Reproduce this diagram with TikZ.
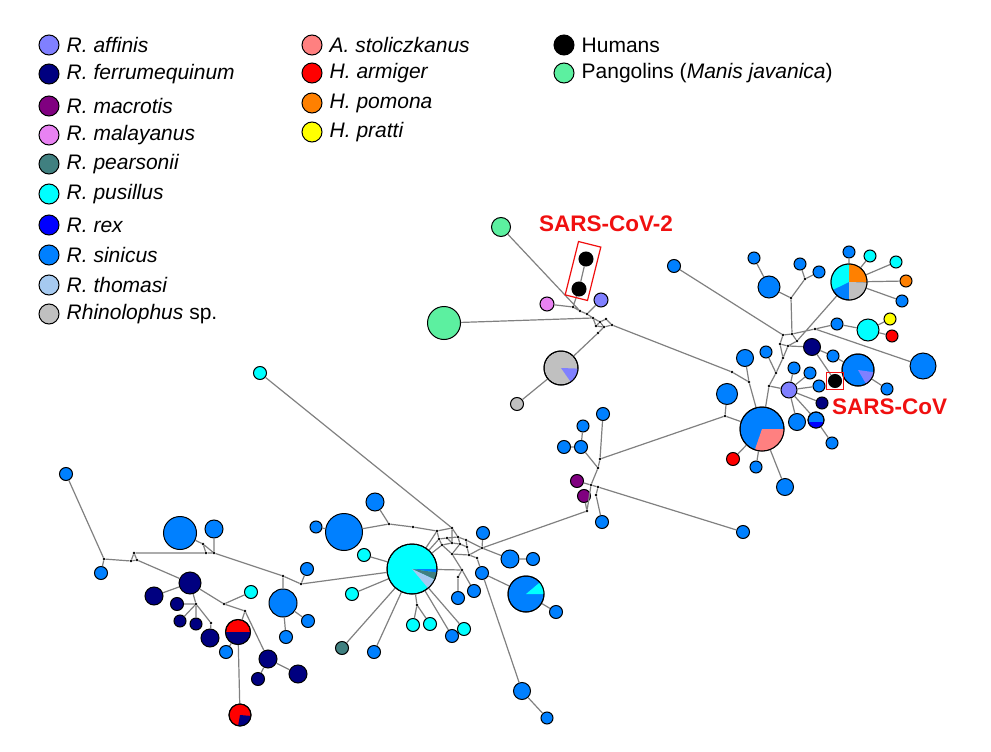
\documentclass[tikz,border=0pt]{standalone}
\usepackage{fontspec}
\setmainfont{Liberation Sans}
\usetikzlibrary{positioning}
\definecolor{affin}{HTML}{8080FF}
\definecolor{ferru}{HTML}{000080}
\definecolor{macro}{HTML}{800080}
\definecolor{malay}{HTML}{E882F2}
\definecolor{pears}{HTML}{408080}
\definecolor{pusil}{HTML}{00FFFF}
\definecolor{rexc}{HTML}{0000FF}
\definecolor{sinic}{HTML}{0080FF}
\definecolor{thoma}{HTML}{A6CAF0}
\definecolor{rhino}{HTML}{C0C0C0}
\definecolor{stoli}{HTML}{FF8080}
\definecolor{armig}{HTML}{FF0000}
\definecolor{pomon}{HTML}{FF8000}
\definecolor{pratt}{HTML}{FFFF00}
\definecolor{pango}{HTML}{5CF0A0}
\definecolor{boxred}{HTML}{F01010}
\tikzset{
    hap/.style={circle, draw=black, line width=1pt, inner sep=0pt, minimum size=#1}, % one haplotype, size = number of sequences
    jn/.style={circle, fill=black, inner sep=0pt, minimum size=2.6pt}, % median vector
    lnk/.style={draw=gray, line width=1.2pt}, % links of the network
    legtext/.style={font=\fontsize{21}{25}\selectfont, inner sep=1pt}, % legend entries
    sarslbl/.style={font=\fontsize{22.5}{26}\selectfont\bfseries, text=boxred, inner sep=0pt}, % virus names
}
% wedge of a pie haplotype: node, radius, start, end, colour
\newcommand{\slice}[5]{\fill[#5] (#1.center) -- ++(#3:#2pt) arc[start angle=#3, end angle=#4, radius=#2pt] -- cycle;}
\newcommand{\rim}[2]{\draw[line width=1pt] (#1.center) circle[radius=#2pt];}

\begin{document}
\begin{tikzpicture}[x=1pt, y=-1pt]
\useasboundingbox (0,0) rectangle (991,752);

% legend
\node[hap=20, fill=affin] (k1) at (49,45) {};
\node[legtext, right=6pt of k1] {\textit{R. affinis}};
\node[hap=20, fill=ferru] (k2) at (49,74) {};
\node[legtext, right=6pt of k2] {\textit{R. ferrumequinum}};
\node[hap=20, fill=macro] (k3) at (49,106) {};
\node[legtext, right=6pt of k3] {\textit{R. macrotis}};
\node[hap=20, fill=malay] (k4) at (49,135) {};
\node[legtext, right=6pt of k4] {\textit{R. malayanus}};
\node[hap=20, fill=pears] (k5) at (49,164) {};
\node[legtext, right=6pt of k5] {\textit{R. pearsonii}};
\node[hap=20, fill=pusil] (k6) at (49,194) {};
\node[legtext, right=6pt of k6] {\textit{R. pusillus}};
\node[hap=20, fill=rexc] (k7) at (49,225) {};
\node[legtext, right=6pt of k7] {\textit{R. rex}};
\node[hap=20, fill=sinic] (k8) at (49,255) {};
\node[legtext, right=6pt of k8] {\textit{R. sinicus}};
\node[hap=20, fill=thoma] (k9) at (49,285) {};
\node[legtext, right=6pt of k9] {\textit{R. thomasi}};
\node[hap=20, fill=rhino] (k10) at (49,314) {};
\node[legtext, right=6pt of k10] {\textit{Rhinolophus} sp.};
\node[hap=20, fill=stoli] (k11) at (312,45) {};
\node[legtext, right=6pt of k11] {\textit{A. stoliczkanus}};
\node[hap=20, fill=armig] (k12) at (312,73) {};
\node[legtext, right=6pt of k12] {\textit{H. armiger}};
\node[hap=20, fill=pomon] (k13) at (312,103) {};
\node[legtext, right=6pt of k13] {\textit{H. pomona}};
\node[hap=20, fill=pratt] (k14) at (312,132) {};
\node[legtext, right=6pt of k14] {\textit{H. pratti}};
\node[hap=20, fill=black] (k15) at (564,45) {};
\node[legtext, right=6pt of k15] {Humans};
\node[hap=20, fill=pango] (k16) at (564,73) {};
\node[legtext, right=6pt of k16] {Pangolins (\textit{Manis javanica})};

% pangolin / SARS-CoV-2 group
\node[hap=19, fill=pango] (pg1) at (501,227) {};
\node[hap=33, fill=pango] (pg2) at (444,323) {};
\node[hap=14, fill=black] (hu1) at (586,259) {};
\node[hap=14, fill=black] (hu2) at (579,289) {};
\node[hap=14, fill=malay] (ma1) at (547,304) {};
\node[hap=14, fill=affin] (af1) at (601,300) {};
\node[hap=34, fill=rhino] (rp1) at (561,368) {};
\node[hap=13, fill=rhino] (rp2) at (517,404) {};
\node[jn] (ta) at (573,307) {};
\node[jn] (tb) at (580,311) {};
\node[jn] (tc) at (587,314) {};
\node[jn] (td) at (593,318) {};
\node[jn] (te) at (600,322) {};
\node[jn] (tf) at (606,319) {};
\node[jn] (tg) at (604,327) {};
\node[jn] (th) at (596,326) {};
\node[jn] (ti) at (612,325) {};
\node[jn] (tk) at (598,333) {};
\node[sarslbl] (lab2) at (606,224) {SARS-CoV-2};

% SARS-CoV group
\node[hap=13, fill=sinic] (r01) at (674,266) {};
\node[hap=12, fill=sinic] (r02) at (754,258) {};
\node[hap=22, fill=sinic] (r03) at (769,287) {};
\node[hap=12, fill=sinic] (r04) at (800,264) {};
\node[hap=12, fill=sinic] (r05) at (819,272) {};
\node[hap=36, fill=sinic] (tp) at (849,282) {};
\node[hap=12, fill=sinic] (r06) at (849,252) {};
\node[hap=12, fill=pusil] (r07) at (870,256) {};
\node[hap=12, fill=pusil] (r08) at (896,262) {};
\node[hap=12, fill=pomon] (r09) at (906,281) {};
\node[hap=12, fill=sinic] (r10) at (902,301) {};
\node[hap=12, fill=pratt] (r11) at (890,319) {};
\node[hap=12, fill=armig] (r12) at (892,336) {};
\node[hap=22, fill=pusil] (r13) at (868,330) {};
\node[hap=12, fill=sinic] (r14) at (837,324) {};
\node[hap=26, fill=sinic] (r15) at (923,366) {};
\node[hap=17, fill=ferru] (r16) at (812,347) {};
\node[hap=12, fill=sinic] (r17) at (833,356) {};
\node[hap=32, fill=sinic] (r18) at (858,370) {};
\node[hap=12, fill=sinic] (r19) at (887,389) {};
\node[hap=13, fill=black] (hsc) at (835,381) {};
\node[hap=16, fill=affin] (r20) at (789,390) {};
\node[hap=12, fill=sinic] (r21) at (794,368) {};
\node[hap=12, fill=sinic] (r22) at (810,373) {};
\node[hap=12, fill=sinic] (r23) at (819,386) {};
\node[hap=12, fill=ferru] (r24) at (822,403) {};
\node[hap=16, fill=sinic] (r25) at (816,420) {};
\node[hap=17, fill=sinic] (r26) at (797,422) {};
\node[hap=12, fill=sinic] (r27) at (832,443) {};
\node[hap=12, fill=sinic] (r28) at (766,352) {};
\node[hap=17, fill=sinic] (r29) at (745,358) {};
\node[hap=21, fill=sinic] (r30) at (727,394) {};
\node[hap=44, fill=sinic] (big) at (762,429) {};
\node[hap=13, fill=armig] (r31) at (733,459) {};
\node[hap=12, fill=sinic] (r32) at (756,467) {};
\node[hap=17, fill=sinic] (r33) at (785,487) {};
\node[jn] (ra) at (732,372) {};
\node[jn] (rb) at (749,382) {};
\node[jn] (rc) at (725,416) {};
\node[jn] (rd) at (769,386) {};
\node[jn] (re) at (776,373) {};
\node[jn] (rf) at (783,358) {};
\node[jn] (mA) at (783,335) {};
\node[jn] (mB) at (792,334) {};
\node[jn] (mC) at (780,344) {};
\node[jn] (mD) at (788,346) {};
\node[jn] (mE) at (797,341) {};
\node[jn] (mH) at (815,329) {};
\node[jn] (jA) at (791,298) {};
\node[jn] (jB) at (805,279) {};
\node[sarslbl, anchor=west] (lab1) at (832,407) {SARS-CoV};

% middle group
\node[hap=13, fill=sinic] (m01) at (603,414) {};
\node[hap=12, fill=sinic] (m02) at (583,426) {};
\node[hap=13, fill=sinic] (m03) at (581,447) {};
\node[hap=13, fill=sinic] (m04) at (564,447) {};
\node[hap=13, fill=macro] (m05) at (577,481) {};
\node[hap=13, fill=macro] (m06) at (584,496) {};
\node[hap=13, fill=sinic] (m07) at (602,522) {};
\node[hap=13, fill=sinic] (m08) at (743,532) {};
\node[jn] (na) at (600,459) {};
\node[jn] (nb) at (598,468) {};
\node[jn] (nc) at (591,485) {};
\node[jn] (nd) at (598,487) {};
\node[jn] (ne) at (596,495) {};
\node[jn] (nf) at (587,511) {};

% R. pusillus group
\node[hap=50, fill=pusil] (cp) at (412,569) {};
\node[hap=37, fill=sinic] (c01) at (344,532) {};
\node[hap=12, fill=sinic] (c02) at (316,527) {};
\node[hap=18, fill=sinic] (c03) at (375,502) {};
\node[hap=13, fill=pusil] (c04) at (364,555) {};
\node[hap=13, fill=pusil] (c05) at (352,594) {};
\node[hap=13, fill=pears] (c06) at (342,648) {};
\node[hap=13, fill=sinic] (c07) at (374,652) {};
\node[hap=13, fill=pusil] (c08) at (413,625) {};
\node[hap=13, fill=pusil] (c09) at (430,624) {};
\node[hap=13, fill=sinic] (c10) at (452,636) {};
\node[hap=13, fill=pusil] (c11) at (464,629) {};
\node[hap=13, fill=sinic] (c12) at (458,598) {};
\node[hap=13, fill=sinic] (c13) at (474,591) {};
\node[hap=13, fill=sinic] (c14) at (483,533) {};
\node[hap=18, fill=sinic] (c15) at (510,559) {};
\node[hap=13, fill=sinic] (c16) at (533,559) {};
\node[hap=13, fill=sinic] (c17) at (482,573) {};
\node[hap=36, fill=sinic] (c18) at (526,594) {};
\node[hap=13, fill=sinic] (c19) at (556,612) {};
\node[hap=17, fill=sinic] (c20) at (522,691) {};
\node[hap=12, fill=sinic] (c21) at (547,718) {};
\node[hap=13, fill=pusil] (c22) at (260,373) {};
\node[jn] (ka) at (389,524) {};
\node[jn] (kb) at (413,527) {};
\node[jn] (kc) at (437,531) {};
\node[jn] (kd) at (452,528) {};
\node[jn] (ke) at (439,539) {};
\node[jn] (kf) at (447,538) {};
\node[jn] (kg) at (458,537) {};
\node[jn] (kh) at (466,540) {};
\node[jn] (ki) at (452,543) {};
\node[jn] (kj) at (460,544) {};
\node[jn] (kk) at (467,547) {};
\node[jn] (kl) at (442,545) {};
\node[jn] (km) at (452,554) {};
\node[jn] (kn) at (469,555) {};
\node[jn] (ko) at (482,548) {};
\node[jn] (kp) at (477,558) {};
\node[jn] (kq) at (462,570) {};
\node[jn] (kr) at (458,577) {};
\node[jn] (ks) at (417,605) {};

% R. ferrumequinum group
\node[hap=13, fill=sinic] (h01) at (66,474) {};
\node[hap=13, fill=sinic] (h02) at (101,573) {};
\node[hap=33, fill=sinic] (h03) at (180,533) {};
\node[hap=18, fill=sinic] (h04) at (214,529) {};
\node[hap=22, fill=ferru] (h05) at (190,583) {};
\node[hap=18, fill=ferru] (h06) at (154,596) {};
\node[hap=13, fill=ferru] (h07) at (177,604) {};
\node[hap=12, fill=ferru] (h08) at (180,621) {};
\node[hap=12, fill=ferru] (h09) at (196,624) {};
\node[hap=18, fill=ferru] (h10) at (210,638) {};
\node[hap=13, fill=pusil] (h11) at (251,592) {};
\node[hap=25, fill=armig] (h12) at (238,632) {};
\node[hap=13, fill=sinic] (h13) at (226,652) {};
\node[hap=18, fill=ferru] (h14) at (268,659) {};
\node[hap=13, fill=ferru] (h15) at (258,679) {};
\node[hap=18, fill=ferru] (h16) at (298,674) {};
\node[hap=22, fill=armig] (h17) at (240,715) {};
\node[hap=28, fill=sinic] (h18) at (283,603) {};
\node[hap=13, fill=sinic] (h19) at (308,621) {};
\node[hap=13, fill=sinic] (h20) at (286,637) {};
\node[hap=13, fill=sinic] (h21) at (307,569) {};
\node[jn] (ga) at (104,559) {};
\node[jn] (gb) at (131,561) {};
\node[jn] (gc) at (134,553) {};
\node[jn] (gd) at (137,560) {};
\node[jn] (ge) at (206,553) {};
\node[jn] (gf) at (214,553) {};
\node[jn] (gg) at (203,544) {};
\node[jn] (gh) at (283,576) {};
\node[jn] (la) at (301,584) {};
\node[jn] (gi) at (224,604) {};
\node[jn] (gj) at (245,611) {};
\node[jn] (gk) at (196,604) {};
\node[jn] (gl) at (211,623) {};

% links
\draw[lnk] (ma1) -- (ta) -- (tb) -- (tc) -- (td) -- (te)
    (hu1) -- (hu2) -- (ta) (af1) -- (tc) (pg1) -- (tb) (pg2) -- (td)
    (td) -- (th) -- (te) -- (tf) -- (ti) (th) -- (tg) -- (ti) (te) -- (tg)
    (rp1) -- (tk) -- (tg) (rp1) -- (rp2) (ti) -- (ra);
\draw[lnk] (ra) -- (rb) -- (big) (r29) -- (rb) (r30) -- (rc) -- (big) (rc) -- (na)
    (r01) -- (mA) -- (mB) -- (mH) -- (r14) (mH) -- (r15)
    (mA) -- (mC) -- (mD) -- (mE) -- (mB)
    (r02) -- (r03) -- (jA) -- (mB) (jA) -- (jB) -- (r04) (jB) -- (r05)
    (tp) -- (mE) (tp) -- (r06) (tp) -- (r07) (tp) -- (r08) (tp) -- (r09) (tp) -- (r10)
    (mC) -- (rf) (mD) -- (rf) -- (re) -- (rd) -- (big) (r28) -- (re) (r20) -- (rd)
    (mD) -- (r16) -- (r17) -- (r18) -- (r19) (r16) -- (hsc)
    (r14) -- (r13) -- (r11) (r13) -- (r12)
    (r20) -- (r21) (r20) -- (r22) (r20) -- (r23) (r20) -- (r24) (r20) -- (r25) (r20) -- (r26)
    (r25) -- (r27) (big) -- (r31) (big) -- (r32) (big) -- (r33);
\draw[lnk] (m01) -- (na) -- (nb) -- (nc) -- (nf) (nb) -- (m03) -- (m04) (m03) -- (m02)
    (nc) -- (m05) (m06) -- (nf) (nc) -- (nd) -- (ne) -- (m07) (nd) -- (m08) (nf) -- (ko);
\draw[lnk] (c02) -- (c01) -- (ka) -- (kb) -- (kc) -- (kd) -- (c22) (ka) -- (c03)
    (kc) -- (ke) -- (kf) -- (kg) -- (kh) (kd) -- (kg) (kd) -- (ki) (kf) -- (ki)
    (ke) -- (kl) -- (ki) -- (kj) -- (kk) (kg) -- (kj) (kh) -- (kk)
    (kl) -- (km) -- (kn) (kj) -- (km) (kk) -- (kn) -- (ko) (kh) -- (ko)
    (ko) -- (c14) (ko) -- (c15) -- (c16) (kn) -- (kp) -- (c17) -- (c18) -- (c19)
    (c17) -- (c20) -- (c21) (cp) -- (kc) (cp) -- (ke) (cp) -- (kl) (cp) -- (kq)
    (kq) -- (km) (kq) -- (kr) -- (c12) (kq) -- (c13)
    (cp) -- (c04) (cp) -- (c05) (cp) -- (c06) (cp) -- (c07) (cp) -- (ks) -- (c08) (ks) -- (c09)
    (cp) -- (c10) (cp) -- (c11) (cp) -- (la);
\draw[lnk] (h01) -- (ga) -- (h02) (ga) -- (gb) -- (gc) -- (gd) -- (gb)
    (gc) -- (ge) -- (gf) -- (gh) -- (la) (h03) -- (gg) -- (ge) (gg) -- (gf) (h04) -- (gf)
    (gh) -- (h18) -- (h19) (h18) -- (h20) (h21) -- (la)
    (gd) -- (h05) -- (h06) (h05) -- (gi) -- (h11) (gi) -- (gj) -- (h12) (gj) -- (h14) -- (h15) (h14) -- (h16)
    (h05) -- (gk) -- (h07) (gk) -- (h08) (gk) -- (h09) (gk) -- (gl) -- (h10)
    (h12) -- (h13) (h12) -- (h17);

% pie wedges
\slice{rp1}{17}{-55}{-2}{affin} \rim{rp1}{17}
\slice{tp}{18}{-2}{90}{pomon} \slice{tp}{18}{90}{206}{pusil} \slice{tp}{18}{-90}{-2}{rhino} \rim{tp}{18}
\slice{r18}{16}{-60}{-8}{affin} \rim{r18}{16}
\slice{big}{22}{-109}{0}{stoli} \rim{big}{22}
\slice{cp}{25}{-8}{0}{sinic} \slice{cp}{25}{-25}{-8}{pears} \slice{cp}{25}{-50}{-25}{thoma} \rim{cp}{25}
\slice{c18}{18}{0}{40}{pusil} \rim{c18}{18}
\slice{h12}{12.5}{180}{360}{ferru} \rim{h12}{12.5}
\slice{h17}{11}{-100}{-5}{ferru} \rim{h17}{11}
\begin{scope}
\clip (r25.center) circle[radius=8pt];
\fill[rexc] ([shift={(-9pt,-2pt)}]r25.center) rectangle ([shift={(9pt,-9pt)}]r25.center);
\end{scope}
\rim{r25}{8}

% boxes round the human viruses
\node[draw=boxred, line width=1.2pt, minimum width=23pt, minimum height=55pt, rotate=-14] (box2) at (583,271) {};
\node[draw=boxred, line width=1.2pt, minimum size=17pt, inner sep=0pt] (box1) at (hsc) {};
\end{tikzpicture}
\end{document}
